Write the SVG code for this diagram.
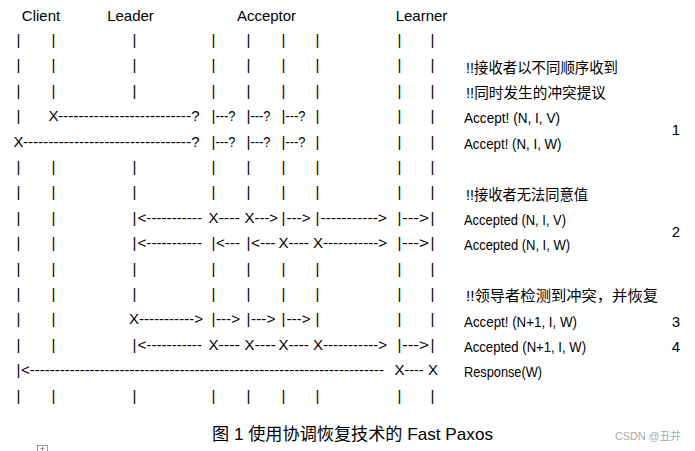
<svg xmlns="http://www.w3.org/2000/svg" width="695" height="451" viewBox="0 0 695 451">
<style>
.t{font-family:"Liberation Sans",Arial,sans-serif;font-size:15px;fill:#000}
.c{text-anchor:middle}
.r{font-family:"Liberation Sans","Noto Sans CJK SC",sans-serif;font-size:15px;fill:#000}
.cap{font-family:"Liberation Sans","Noto Sans CJK SC",sans-serif;font-size:17px;fill:#000}
.wm{font-family:"Liberation Sans","Noto Sans CJK SC",sans-serif;font-size:11px;fill:#aaa}
</style>
<rect width="695" height="451" fill="#fff"/>
<g id="node-client"><text class="t c" x="41" y="21">Client</text></g>
<g id="node-leader"><text class="t c" x="130.5" y="21">Leader</text></g>
<g id="node-acceptor"><text class="t c" x="266.5" y="21">Acceptor</text></g>
<g id="node-learner"><text class="t c" x="421.5" y="21">Learner</text></g>
<g id="lifelines">
<text class="t c" x="18.5 53.5 134.5 213.5 248.5 283.5 317.5 399.5 432.5" y="45">|||||||||</text>
<text class="t c" x="18.5 53.5 134.5 213.5 248.5 283.5 317.5 399.5 432.5" y="70.4">|||||||||</text>
<text class="t c" x="18.5 53.5 134.5 213.5 248.5 283.5 317.5 399.5 432.5" y="95.8">|||||||||</text>
<text class="t c" x="18.5 53.5 134.5 213.5 248.5 283.5 317.5 399.5 432.5" y="172">|||||||||</text>
<text class="t c" x="18.5 53.5 134.5 213.5 248.5 283.5 317.5 399.5 432.5" y="197.4">|||||||||</text>
<text class="t c" x="18.5 53.5 134.5 213.5 248.5 283.5 317.5 399.5 432.5" y="273.6">|||||||||</text>
<text class="t c" x="18.5 53.5 134.5 213.5 248.5 283.5 317.5 399.5 432.5" y="299">|||||||||</text>
<text class="t c" x="18.5 53.5 134.5 213.5 248.5 283.5 317.5 399.5 432.5" y="400.6">|||||||||</text>
</g>
<g id="connectors">
<!-- row 4 -->
<text class="t c" x="18.5 53.5 195.5 213.5 248.5 283.5 317.5 399.5 432.5" y="121.2">|X?||||||</text>
<text class="t" x="58" y="121.2" textLength="133" lengthAdjust="spacingAndGlyphs">--------------------------</text>
<text class="t" x="215.5" y="121.2" textLength="20" lengthAdjust="spacingAndGlyphs">---?</text>
<text class="t" x="250.5" y="121.2" textLength="20" lengthAdjust="spacingAndGlyphs">---?</text>
<text class="t" x="285.5" y="121.2" textLength="20" lengthAdjust="spacingAndGlyphs">---?</text>
<!-- row 5 -->
<text class="t c" x="18.5 195.5 213.5 248.5 283.5 317.5 399.5 432.5" y="146.6">X?||||||</text>
<text class="t" x="23" y="146.6" textLength="168" lengthAdjust="spacingAndGlyphs">---------------------------------</text>
<text class="t" x="215.5" y="146.6" textLength="20" lengthAdjust="spacingAndGlyphs">---?</text>
<text class="t" x="250.5" y="146.6" textLength="20" lengthAdjust="spacingAndGlyphs">---?</text>
<text class="t" x="285.5" y="146.6" textLength="20" lengthAdjust="spacingAndGlyphs">---?</text>
<!-- row 8 -->
<text class="t c" x="18.5 53.5 134.5 213.5 249.5 283.5 317.5 399.5 432.5" y="222.8">|||XX||||</text>
<text class="t" x="137.5" y="222.8" textLength="64.5" lengthAdjust="spacingAndGlyphs">&lt;-----------</text>
<text class="t" x="218.5" y="222.8" textLength="21.5" lengthAdjust="spacingAndGlyphs">----</text>
<text class="t" x="254.5" y="222.8" textLength="23.5" lengthAdjust="spacingAndGlyphs">---&gt;</text>
<text class="t" x="286.5" y="222.8" textLength="24" lengthAdjust="spacingAndGlyphs">---&gt;</text>
<text class="t" x="320.5" y="222.8" textLength="66.5" lengthAdjust="spacingAndGlyphs">-----------&gt;</text>
<text class="t" x="402" y="222.8" textLength="27" lengthAdjust="spacingAndGlyphs">---&gt;</text>
<!-- row 9 -->
<text class="t c" x="18.5 53.5 134.5 213.5 248.5 283.5 318 399.5 432.5" y="248.2">|||||XX||</text>
<text class="t" x="137.5" y="248.2" textLength="64.5" lengthAdjust="spacingAndGlyphs">&lt;-----------</text>
<text class="t" x="216" y="248.2" textLength="24" lengthAdjust="spacingAndGlyphs">&lt;---</text>
<text class="t" x="251" y="248.2" textLength="24.5" lengthAdjust="spacingAndGlyphs">&lt;---</text>
<text class="t" x="288.5" y="248.2" textLength="20.5" lengthAdjust="spacingAndGlyphs">----</text>
<text class="t" x="323" y="248.2" textLength="64" lengthAdjust="spacingAndGlyphs">-----------&gt;</text>
<text class="t" x="402" y="248.2" textLength="27" lengthAdjust="spacingAndGlyphs">---&gt;</text>
<!-- row 12 -->
<text class="t c" x="18.5 53.5 134 213.5 248.5 283.5 317.5 399.5 432.5" y="324.4">||X||||||</text>
<text class="t" x="139" y="324.4" textLength="64" lengthAdjust="spacingAndGlyphs">-----------&gt;</text>
<text class="t" x="216" y="324.4" textLength="24" lengthAdjust="spacingAndGlyphs">---&gt;</text>
<text class="t" x="251" y="324.4" textLength="24.5" lengthAdjust="spacingAndGlyphs">---&gt;</text>
<text class="t" x="286.5" y="324.4" textLength="24" lengthAdjust="spacingAndGlyphs">---&gt;</text>
<!-- row 13 -->
<text class="t c" x="18.5 53.5 134.5 213.5 249.5 283.5 318 399.5 432.5" y="349.8">|||XXXX||</text>
<text class="t" x="137.5" y="349.8" textLength="64.5" lengthAdjust="spacingAndGlyphs">&lt;-----------</text>
<text class="t" x="218.5" y="349.8" textLength="21.5" lengthAdjust="spacingAndGlyphs">----</text>
<text class="t" x="254.5" y="349.8" textLength="21.5" lengthAdjust="spacingAndGlyphs">----</text>
<text class="t" x="288.5" y="349.8" textLength="20.5" lengthAdjust="spacingAndGlyphs">----</text>
<text class="t" x="323" y="349.8" textLength="64" lengthAdjust="spacingAndGlyphs">-----------&gt;</text>
<text class="t" x="402" y="349.8" textLength="27" lengthAdjust="spacingAndGlyphs">---&gt;</text>
<!-- row 14 -->
<text class="t c" x="18.5 399.5 433" y="375.2">|XX</text>
<text class="t" x="21" y="375.2" textLength="363" lengthAdjust="spacingAndGlyphs">&lt;-----------------------------------------------------------------------</text>
<text class="t" x="404.5" y="375.2" textLength="19" lengthAdjust="spacingAndGlyphs">----</text>
</g>
<g id="notes">
<text class="r" x="466" y="72.6" textLength="152" lengthAdjust="spacingAndGlyphs">!!接收者以不同顺序收到</text>
<text class="r" x="466" y="98" textLength="140" lengthAdjust="spacingAndGlyphs">!!同时发生的冲突提议</text>
<text class="r" x="464" y="123.4" textLength="96" lengthAdjust="spacingAndGlyphs">Accept! (N, I, V)</text>
<text class="r" x="464" y="148.8" textLength="97.5" lengthAdjust="spacingAndGlyphs">Accept! (N, I, W)</text>
<text class="r" x="466" y="199.6" textLength="122" lengthAdjust="spacingAndGlyphs">!!接收者无法同意值</text>
<text class="r" x="464" y="225" textLength="102" lengthAdjust="spacingAndGlyphs">Accepted (N, I, V)</text>
<text class="r" x="464" y="250.4" textLength="106" lengthAdjust="spacingAndGlyphs">Accepted (N, I, W)</text>
<text class="r" x="466" y="301.2" textLength="192" lengthAdjust="spacingAndGlyphs">!!领导者检测到冲突，并恢复</text>
<text class="r" x="464" y="326.6" textLength="113" lengthAdjust="spacingAndGlyphs">Accept! (N+1, I, W)</text>
<text class="r" x="464" y="352" textLength="122" lengthAdjust="spacingAndGlyphs">Accepted (N+1, I, W)</text>
<text class="r" x="464" y="377.4" textLength="78" lengthAdjust="spacingAndGlyphs">Response(W)</text>
<text class="t c" x="676" y="134.5">1</text>
<text class="t c" x="676" y="236.5">2</text>
<text class="t c" x="676" y="326.6">3</text>
<text class="t c" x="676" y="352">4</text>
</g>
<text class="cap" x="212" y="439.5" textLength="281" lengthAdjust="spacingAndGlyphs">图 1 使用协调恢复技术的 Fast Paxos</text>
<text class="wm" x="615" y="440" textLength="66" lengthAdjust="spacingAndGlyphs">CSDN @丑井</text>
<g id="anchor-icon" fill="none" stroke="#777" stroke-width="0.8">
<rect x="37.5" y="445.5" width="10" height="8"/>
<path d="M42.5 447v5M40.5 448.5h4"/>
</g>
</svg>
